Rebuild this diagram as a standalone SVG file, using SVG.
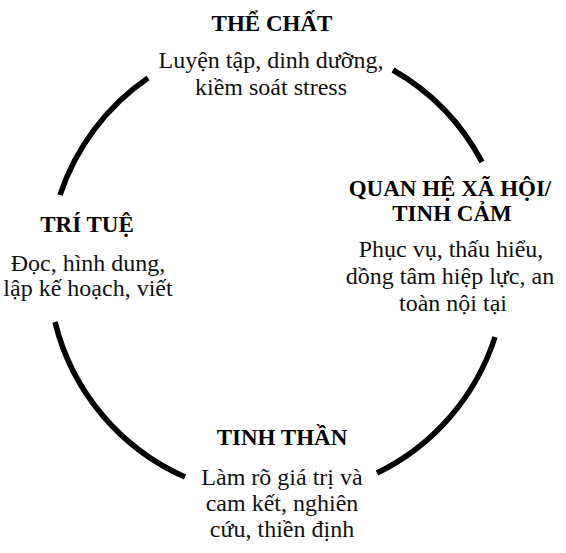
<svg xmlns="http://www.w3.org/2000/svg" width="566" height="553" viewBox="0 0 566 553">
<style>
.title{font-weight:bold;font-size:23px;fill:#000;text-anchor:middle}
.body{font-size:24px;fill:#111;text-anchor:middle}
.arc{fill:none;stroke:#000;stroke-width:5.5}
</style>
<rect width="566" height="553" fill="#fff"/>
<g id="connectors">
<path class="arc" d="M60,195 A229,229 0 0 1 148,78"/>
<path class="arc" d="M393,70 A229,229 0 0 1 482,162"/>
<path class="arc" d="M495,337 A229,229 0 0 1 377,473"/>
<path class="arc" d="M185,477 A229,229 0 0 1 55,322"/>
</g>
<g font-family="Liberation Serif, Times New Roman, DejaVu Serif, serif">
<g id="the-chat">
<text class="title" x="272" y="31">THỂ CHẤT</text>
<text class="body" x="271" y="68">Luyện tập, dinh dưỡng,</text>
<text class="body" x="271" y="95">kiềm soát stress</text>
</g>
<g id="quan-he">
<text class="title" x="450" y="196">QUAN HỆ XÃ HỘI/</text>
<text class="title" x="452" y="221">TINH CẢM</text>
<text class="body" x="451" y="257">Phục vụ, thấu hiểu,</text>
<text class="body" x="450" y="284">dồng tâm hiệp lực, an</text>
<text class="body" x="453" y="311">toàn nội tại</text>
</g>
<g id="tri-tue">
<text class="title" x="87" y="232">TRÍ TUỆ</text>
<text class="body" x="88" y="271">Đọc, hình dung,</text>
<text class="body" x="88" y="296">lập kế hoạch, viết</text>
</g>
<g id="tinh-than">
<text class="title" x="282" y="445">TINH THẦN</text>
<text class="body" x="282" y="485">Làm rõ giá trị và</text>
<text class="body" x="282" y="511">cam kết, nghiên</text>
<text class="body" x="282" y="537">cứu, thiền định</text>
</g>
</g>
</svg>
